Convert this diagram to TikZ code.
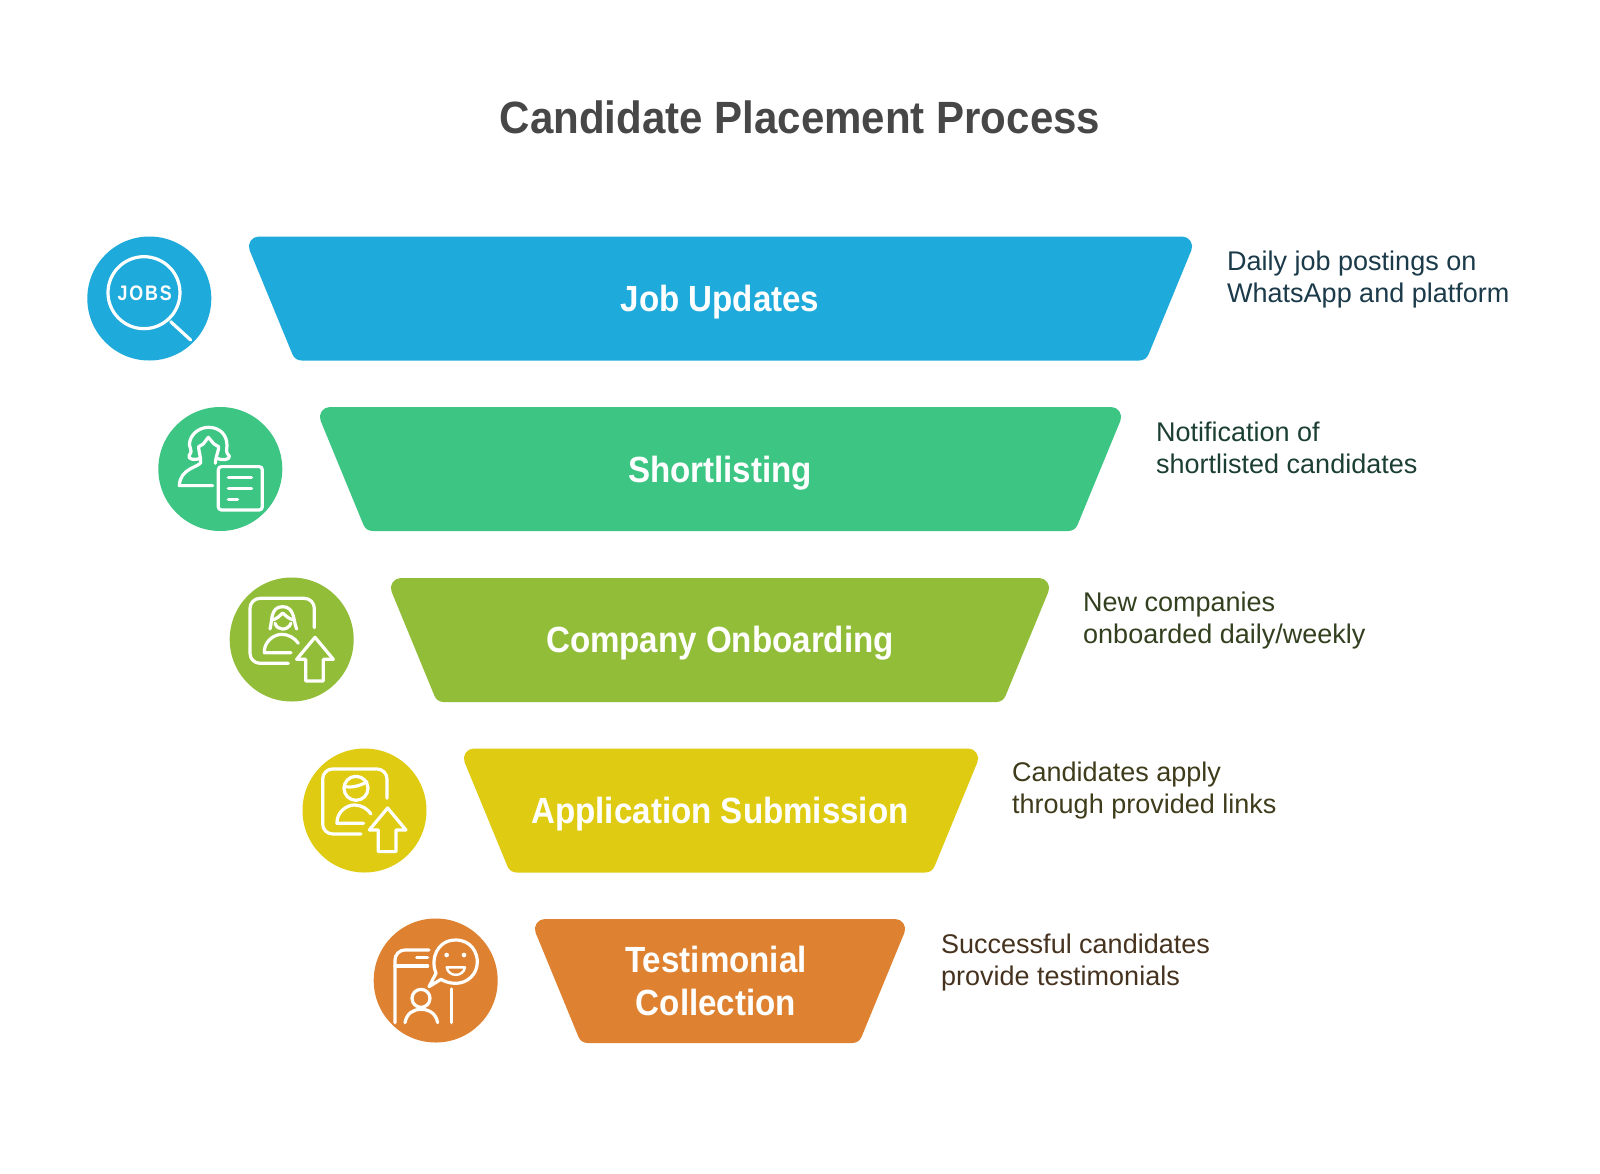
\documentclass[tikz,border=0pt]{standalone}
\usepackage{fontspec}
\setmainfont{Liberation Sans}
\newfontfamily\hdfont[FakeStretch=0.91]{Liberation Sans Bold}
\newfontfamily\ttfont[FakeStretch=0.93]{Liberation Sans Bold}
\newfontfamily\jobfont[FakeStretch=0.85,LetterSpace=9]{Liberation Sans Bold}
\newfontfamily\dsfont{Liberation Sans}
\definecolor{cblue}{HTML}{1EAADB}
\definecolor{cgreen}{HTML}{3DC583}
\definecolor{clime}{HTML}{92BD39}
\definecolor{cyel}{HTML}{DFCC12}
\definecolor{corg}{HTML}{DE8231}
\definecolor{tblue}{HTML}{1B3A4A}
\definecolor{tgreen}{HTML}{1C3F33}
\definecolor{tlime}{HTML}{33401F}
\definecolor{tyel}{HTML}{3F3C1C}
\definecolor{torg}{HTML}{46331F}
\tikzset{
  badge/.style={circle,fill=#1,draw=none,minimum size=124pt,inner sep=0pt},
  lab/.style={text=white,font=\hdfont\fontsize{36.4}{43}\selectfont,align=center,inner sep=0pt},
  desc/.style={anchor=west,align=left,inner sep=0pt,font=\dsfont\fontsize{27}{32}\selectfont},
  ttl/.style={text=black!72,font=\ttfont\fontsize{45.2}{52}\selectfont,inner sep=0pt},
  ico/.style={draw=white,line width=3.2pt,line cap=round,line join=round,fill=none},
  zoomed/.style={x=0.3333pt,y=-0.3333pt}
}
% top-left x, top-right x, bottom-right x, bottom-left x, top y, bottom y, colour
% the polygon is inset by 10 and stroked 20 wide with round joins: corners of radius 10
\newcommand{\trapz}[7]{%
  \path[fill=#7,draw=#7,line width=20pt,line join=round]
    ({#1+14.9},{#5+10}) -- ({#2-14.9},{#5+10}) -- ({#3-6.7},{#6-10}) -- ({#4+6.7},{#6-10}) -- cycle;}
\begin{document}
\begin{tikzpicture}[x=1pt,y=-1pt]
\useasboundingbox (0,0) rectangle (1600,1173);
\fill[white] (0,0) rectangle (1600,1173);
\node[ttl] (title) at (800,117) {Candidate Placement Process};
% trapezoids
\trapz{244}{1197}{1146}{295}{236.5}{360.5}{cblue}
\trapz{315}{1126}{1075}{366}{407}{531}{cgreen}
\trapz{386}{1054}{1003}{437}{578}{702}{clime}
\trapz{459}{983}{932}{510}{748.5}{872.5}{cyel}
\trapz{530}{910}{859}{581}{919}{1043}{corg}
\node[lab,anchor=base] (l1) at (720,311) {Job Updates};
\node[lab,anchor=base] (l2) at (720,482) {Shortlisting};
\node[lab,anchor=base] (l3) at (720,652.5) {Company Onboarding};
\node[lab,anchor=base] (l4) at (720,823) {Application Submission};
\node[lab] (l5) at (716,981) {Testimonial\\Collection};
% descriptions
\node[desc,text=tblue] (d1) at (1227,280) {Daily job postings on\\WhatsApp and platform};
\node[desc,text=tgreen] (d2) at (1156,448) {Notification of\\shortlisted candidates};
\node[desc,text=tlime] (d3) at (1083,621) {New companies\\onboarded daily/weekly};
\node[desc,text=tyel] (d4) at (1012,790.5) {Candidates apply\\through provided links};
\node[desc,text=torg] (d5) at (941,963) {Successful candidates\\provide testimonials};
% badges
\node[badge=cblue] (b1) at (149.3,298.5) {};
\node[badge=cgreen] (b2) at (220.3,469) {};
\node[badge=clime] (b3) at (291.7,639.5) {};
\node[badge=cyel] (b4) at (364.5,810.5) {};
\node[badge=corg] (b5) at (435.7,980.5) {};
% icon 1 and 2
\begin{scope}[shift={(70,220)},zoomed]
\draw[ico] (222,218) circle[radius=108];
\draw[ico] (302,305) -- (362,360);
\node[text=white,font=\jobfont\fontsize{21}{21}\selectfont,inner sep=0pt] (jobs) at (224,219) {JOBS};
\draw[ico] (392,715) .. controls (375,722) and (350,718) .. (358,705)
  .. controls (372,690) and (352,680) .. (360,662)
  .. controls (368,635) and (395,622) .. (415,622)
  .. controls (440,622) and (465,635) .. (470,665)
  .. controls (475,685) and (462,692) .. (478,708)
  .. controls (482,720) and (455,722) .. (440,715);
\draw[ico] (386,680) -- (400,672) -- (415,652) -- (432,672) -- (446,680)
  .. controls (446,695) and (438,705) .. (436,730);
\draw[ico] (386,680) .. controls (386,695) and (392,705) .. (392,728)
  .. controls (385,742) and (330,745) .. (328,797) -- (428,797);
\draw[ico,rounded corners=3pt] (445,740) rectangle (577,870);
\draw[ico] (475,773) -- (545,773) (475,805) -- (545,805) (475,838) -- (503,838);
\end{scope}
% icon 3 and 4
\begin{scope}[shift={(215,555)},zoomed]
\draw[ico,rounded corners=10pt] (298,218) -- (298,130) -- (105,130) -- (105,325) -- (220,325);
\draw[ico] (165,222) .. controls (172,200) and (165,155) .. (203,155)
  .. controls (240,155) and (235,200) .. (245,222);
\draw[ico] (172,195) .. controls (185,192) and (195,182) .. (203,174)
  .. controls (212,182) and (222,192) .. (236,195);
\draw[ico] (180,205) .. controls (188,228) and (218,228) .. (228,205);
\draw[ico] (228,293) -- (148,293) .. controls (146,262) and (175,238) .. (200,238)
  .. controls (222,238) and (240,250) .. (250,265);
\draw[ico] (300,247) -- (355,313) -- (325,313) -- (325,378) -- (272,378) -- (272,313) -- (245,313) -- cycle;
\begin{scope}[shift={(218,512)}]
\draw[ico,rounded corners=10pt] (298,218) -- (298,130) -- (105,130) -- (105,325) -- (220,325);
\draw[ico] (205,188) circle[radius=36];
\draw[ico] (170,182) .. controls (190,188) and (220,180) .. (238,168);
\draw[ico] (228,293) -- (148,293) .. controls (146,262) and (175,238) .. (200,238)
  .. controls (222,238) and (240,250) .. (250,265);
\draw[ico] (300,247) -- (355,313) -- (325,313) -- (325,378) -- (272,378) -- (272,313) -- (245,313) -- cycle;
\end{scope}
\end{scope}
% icon 5
\begin{scope}[shift={(355,890)},zoomed]
\draw[ico,rounded corners=10pt] (120,398) -- (120,180) -- (222,180);
\draw[ico] (120,228) -- (218,228) (185,203) -- (218,203) (290,297) -- (290,398);
\draw[ico] (222,290) -- (243,250) .. controls (225,210) and (245,150) .. (302,150)
  .. controls (350,150) and (367,190) .. (367,215)
  .. controls (367,255) and (335,280) .. (302,280)
  .. controls (285,280) and (270,275) .. (258,268) -- cycle;
\fill[white] (275,195) circle[radius=7] (327,195) circle[radius=7];
\draw[ico,line width=2.4pt] (275,232) -- (330,232) .. controls (325,262) and (280,262) .. (275,232) -- cycle;
\draw[ico] (198,325) circle[radius=27];
\draw[ico] (150,398) .. controls (155,370) and (175,358) .. (198,358) .. controls (222,358) and (243,370) .. (248,398);
\end{scope}
\end{tikzpicture}
\end{document}
